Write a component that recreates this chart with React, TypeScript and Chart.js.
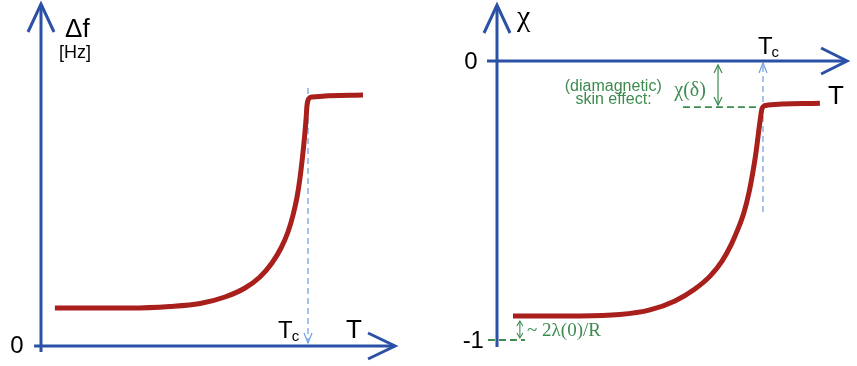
import React, { useEffect, useRef } from "react";
import { Chart, registerables } from "chart.js";

Chart.register(...registerables);

// ---------------- data (temperature in units of Tc) ----------------
// Left panel: frequency shift Δf (normalised to the normal-state plateau)
const leftT = [0.052, 0.333, 0.483, 0.596, 0.689, 0.764, 0.82, 0.865, 0.899, 0.925, 0.944, 0.959, 0.97, 0.979, 0.987, 0.993, 0.996, 1.002, 1.015, 1.206];
const leftDeltaF = [0.152, 0.152, 0.158, 0.17, 0.196, 0.232, 0.276, 0.332, 0.392, 0.456, 0.524, 0.596, 0.672, 0.752, 0.836, 0.912, 0.96, 0.988, 0.996, 1.004];

// Right panel: susceptibility χ
const rightT = [0.06, 0.312, 0.462, 0.575, 0.669, 0.744, 0.801, 0.846, 0.88, 0.906, 0.929, 0.947, 0.962, 0.974, 0.983, 0.991, 0.996, 1.004, 1.019, 1.214];
const rightChi = [-0.914, -0.914, -0.909, -0.892, -0.86, -0.817, -0.771, -0.717, -0.659, -0.602, -0.541, -0.473, -0.398, -0.326, -0.258, -0.201, -0.172, -0.161, -0.158, -0.151];

// Tick labels
const leftYTickValues = [0];
const leftYTickLabels = ["0"];
const rightYTickValues = [0, -1];
const rightYTickLabels = ["0", "-1"];

// Reference levels
const TC = 1;
const chiSkin = -0.165; // χ(δ) plateau level
const chiFull = -1;

// ---------------- styling ----------------
const AXIS = "#2b51a6";
const CURVE = "#a81f1c";
const TC_LINE = "#6f9de0";
const GREEN = "#3d8b4f";
const SANS = '"Liberation Sans", Arial, sans-serif';
const SERIF = '"Liberation Serif", "Times New Roman", serif';

type Pt = [number, number];
interface Axis { from: Pt; to: Pt; head: [number, number]; }
interface Guide { from: Pt; to: Pt; color: string; width: number; dash: number[]; endHead?: [number, number]; startHead?: [number, number]; }
interface Txt { text: string; sub?: string; at: Pt; size: number; family: string; color: string; align: CanvasTextAlign; baseline: CanvasTextBaseline; }
interface Spec { axes: Axis[]; guides: Guide[]; texts: Txt[]; }

function chevron(ctx: CanvasRenderingContext2D, tip: { x: number; y: number }, from: { x: number; y: number }, len: number, half: number) {
  const dx = tip.x - from.x;
  const dy = tip.y - from.y;
  const d = Math.hypot(dx, dy) || 1;
  const ux = dx / d;
  const uy = dy / d;
  const bx = tip.x - ux * len;
  const by = tip.y - uy * len;
  ctx.beginPath();
  ctx.moveTo(bx - uy * half, by + ux * half);
  ctx.lineTo(tip.x, tip.y);
  ctx.lineTo(bx + uy * half, by - ux * half);
  ctx.stroke();
}

function makeSchematic(spec: Spec) {
  const toPx = (chart: any, p: Pt) => ({
    x: chart.scales.x.getPixelForValue(p[0]),
    y: chart.scales.y.getPixelForValue(p[1]),
  });
  return {
    id: "schematic",
    beforeDatasetsDraw(chart: any) {
      const ctx: CanvasRenderingContext2D = chart.ctx;
      ctx.save();
      for (const g of spec.guides) {
        const a = toPx(chart, g.from);
        const b = toPx(chart, g.to);
        ctx.strokeStyle = g.color;
        ctx.lineWidth = g.width;
        ctx.setLineDash(g.dash);
        ctx.beginPath();
        ctx.moveTo(a.x, a.y);
        ctx.lineTo(b.x, b.y);
        ctx.stroke();
        ctx.setLineDash([]);
        if (g.endHead) chevron(ctx, b, a, g.endHead[0], g.endHead[1]);
        if (g.startHead) chevron(ctx, a, b, g.startHead[0], g.startHead[1]);
      }
      ctx.restore();
    },
    afterDatasetsDraw(chart: any) {
      const ctx: CanvasRenderingContext2D = chart.ctx;
      ctx.save();
      ctx.strokeStyle = AXIS;
      ctx.lineWidth = 3;
      ctx.lineJoin = "miter";
      ctx.lineCap = "butt";
      for (const ax of spec.axes) {
        const a = toPx(chart, ax.from);
        const b = toPx(chart, ax.to);
        ctx.beginPath();
        ctx.moveTo(a.x, a.y);
        ctx.lineTo(b.x, b.y);
        ctx.stroke();
        chevron(ctx, b, a, ax.head[0], ax.head[1]);
      }
      for (const t of spec.texts) {
        const p = toPx(chart, t.at);
        ctx.font = `${t.size}px ${t.family}`;
        ctx.fillStyle = t.color;
        ctx.textAlign = t.align;
        ctx.textBaseline = t.baseline;
        ctx.fillText(t.text, p.x, p.y);
        if (t.sub) {
          const w = ctx.measureText(t.text).width;
          ctx.font = `${Math.round(t.size * 0.62)}px ${t.family}`;
          ctx.textAlign = "left";
          ctx.fillText(t.sub, p.x + w - 1, p.y + 3);
        }
      }
      ctx.restore();
    },
  };
}

function makeChart(canvas: HTMLCanvasElement, xs: number[], ys: number[], xr: [number, number], yr: [number, number], spec: Spec) {
  return new Chart(canvas, {
    type: "line",
    data: {
      datasets: [
        {
          data: xs.map((x, i) => ({ x, y: ys[i] })),
          borderColor: CURVE,
          borderWidth: 5,
          pointRadius: 0,
          fill: false,
          cubicInterpolationMode: "monotone",
          borderCapStyle: "butt",
          borderJoinStyle: "round",
        },
      ],
    },
    options: {
      animation: false,
      responsive: false,
      devicePixelRatio: 1,
      layout: { padding: 0 },
      events: [],
      scales: {
        x: { type: "linear", min: xr[0], max: xr[1], display: false },
        y: { type: "linear", min: yr[0], max: yr[1], display: false },
      },
      plugins: { legend: { display: false }, tooltip: { enabled: false } },
    },
    plugins: [makeSchematic(spec)],
  } as any);
}

const leftSpec: Spec = {
  axes: [
    { from: [-0.026, 0], to: [1.326, 0], head: [27, 13] },
    { from: [0, -0.024], to: [0, 1.368], head: [28, 13] },
  ],
  guides: [
    { from: [TC, 1.032], to: [TC, 0.012], color: TC_LINE, width: 1.2, dash: [6, 4], endHead: [10, 4] },
  ],
  texts: [
    ...leftYTickValues.map((v, i) => ({ text: leftYTickLabels[i], at: [-0.09, v] as Pt, size: 24, family: SANS, color: "#000", align: "center" as CanvasTextAlign, baseline: "middle" as CanvasTextBaseline })),
    { text: "Δf", at: [0.09, 1.236], size: 26, family: SANS, color: "#000", align: "left", baseline: "alphabetic" },
    { text: "[Hz]", at: [0.067, 1.152], size: 18, family: SANS, color: "#000", align: "left", baseline: "alphabetic" },
    { text: "T", sub: "c", at: [0.888, 0.032], size: 24, family: SANS, color: "#000", align: "left", baseline: "alphabetic" },
    { text: "T", at: [1.142, 0.032], size: 26, family: SANS, color: "#000", align: "left", baseline: "alphabetic" },
  ],
};

const rightSpec: Spec = {
  axes: [
    { from: [-0.0376, 0], to: [1.316, 0], head: [26, 13] },
    { from: [0, -1.025], to: [0, 0.2007], head: [28, 13] },
  ],
  guides: [
    { from: [TC, -0.541], to: [TC, -0.007], color: TC_LINE, width: 1.2, dash: [6, 4], endHead: [10, 4] },
    { from: [0.699, chiSkin], to: [0.989, chiSkin], color: GREEN, width: 1.8, dash: [7, 4] },
    { from: [0.831, -0.158], to: [0.831, -0.014], color: GREEN, width: 1.2, dash: [], endHead: [8, 4], startHead: [8, 4] },
    { from: [-0.034, chiFull], to: [0.105, chiFull], color: GREEN, width: 1.8, dash: [7, 4] },
    { from: [0.086, -0.993], to: [0.086, -0.932], color: GREEN, width: 1.1, dash: [], endHead: [5, 3], startHead: [5, 3] },
  ],
  texts: [
    { text: rightYTickLabels[0], at: [-0.098, rightYTickValues[0] - 0.004], size: 24, family: SANS, color: "#000", align: "center", baseline: "middle" },
    { text: rightYTickLabels[1], at: [-0.049, rightYTickValues[1] - 0.004], size: 24, family: SANS, color: "#000", align: "right", baseline: "middle" },
    { text: "χ", at: [0.075, 0.125], size: 30, family: SERIF, color: "#000", align: "left", baseline: "alphabetic" },
    { text: "T", sub: "c", at: [0.981, 0.0255], size: 24, family: SANS, color: "#000", align: "left", baseline: "alphabetic" },
    { text: "T", at: [1.244, -0.154], size: 26, family: SANS, color: "#000", align: "left", baseline: "alphabetic" },
    { text: "χ(δ)", at: [0.726, -0.1254], size: 20, family: SERIF, color: GREEN, align: "center", baseline: "alphabetic" },
    { text: "(diamagnetic)", at: [0.437, -0.1075], size: 16, family: SANS, color: GREEN, align: "center", baseline: "alphabetic" },
    { text: "skin effect:", at: [0.438, -0.154], size: 16, family: SANS, color: GREEN, align: "center", baseline: "alphabetic" },
    { text: "~ 2λ(0)/R", at: [0.113, -0.9857], size: 19, family: SERIF, color: GREEN, align: "left", baseline: "alphabetic" },
  ],
};

export default function App() {
  const leftRef = useRef<HTMLCanvasElement>(null);
  const rightRef = useRef<HTMLCanvasElement>(null);

  useEffect(() => {
    const l = makeChart(leftRef.current!, leftT, leftDeltaF, [-0.15356, 1.44944], [-0.08, 1.384], leftSpec);
    const r = makeChart(rightRef.current!, rightT, rightChi, [-0.2594, 1.3534], [-1.0932, 0.21864], rightSpec);
    return () => {
      l.destroy();
      r.destroy();
    };
  }, []);

  return (
    <div style={{ position: "fixed", left: 0, top: 0, width: 857, height: 366, background: "#fff", overflow: "hidden" }}>
      <canvas ref={leftRef} width={428} height={366} style={{ position: "absolute", left: 0, top: 0 }} />
      <canvas ref={rightRef} width={429} height={366} style={{ position: "absolute", left: 428, top: 0 }} />
    </div>
  );
}
